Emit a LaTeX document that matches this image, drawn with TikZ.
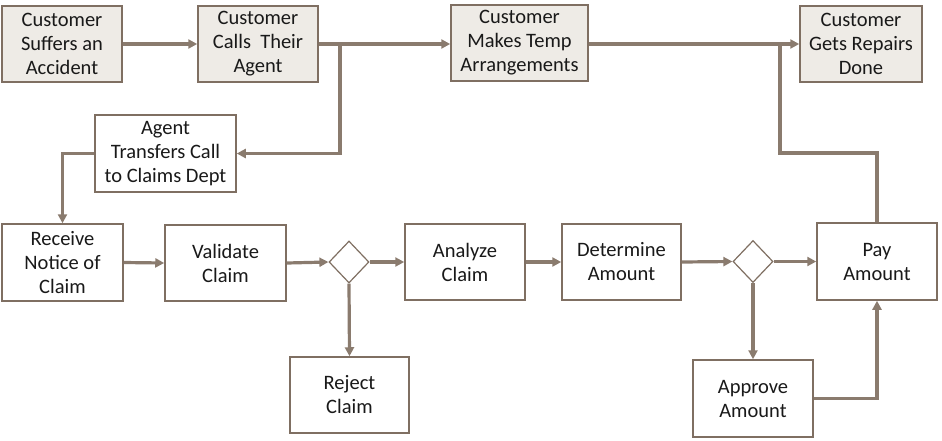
\documentclass[tikz,border=0pt]{standalone}
\usepackage{fontspec}
\setmainfont{Carlito}
\usetikzlibrary{arrows.meta,shapes.geometric}
\definecolor{edge}{HTML}{7F6F62}
\definecolor{line}{HTML}{8A7B6E}
\definecolor{topfill}{HTML}{EEEBE6}
\tikzset{
  box/.style={draw=edge,line width=1.5pt,fill=white,align=center,inner sep=2pt,
    font=\fontsize{20.5}{24}\selectfont,text=black!90},
  topbox/.style={box,fill=topfill},
  dia/.style={draw=edge,line width=1.2pt,fill=white,diamond,minimum width=40pt,minimum height=42pt,inner sep=0pt},
  conn/.style={draw=line,line width=3.2pt},
  arr/.style={conn,-{Triangle[length=9pt,width=9pt]}},
}
\begin{document}
\begin{tikzpicture}[x=1pt,y=-1pt]
\useasboundingbox (0,0) rectangle (942,440);
\node[topbox,minimum width=120pt,minimum height=76pt] (b1) at (62,44) {Customer\\Suffers an\\Accident};
\node[topbox,minimum width=120pt,minimum height=76pt] (b2) at (258,44) {Customer\\Calls\ \ Their\\Agent};
\node[topbox,minimum width=137pt,minimum height=76pt] (b3) at (519.5,43) {Customer\\Makes Temp\\Arrangements};
\node[topbox,minimum width=122pt,minimum height=76pt] (b4) at (861,44) {Customer\\Gets Repairs\\Done};
\node[box,minimum width=141pt,minimum height=77pt] (agent) at (165.5,153.5) {Agent\\Transfers Call\\to Claims Dept};
\node[box,minimum width=121pt,minimum height=77pt] (recv) at (62.5,262.5) {Receive\\Notice of\\Claim};
\node[box,minimum width=121pt,minimum height=76pt] (valid) at (225.5,263) {Validate\\Claim};
\node[dia] (d1) at (349,262) {};
\node[box,minimum width=120pt,minimum height=76pt] (analyze) at (465,262) {Analyze\\Claim};
\node[box,minimum width=119pt,minimum height=76pt] (determine) at (621.5,262) {Determine\\Amount};
\node[dia] (d2) at (753,261.5) {};
\node[box,minimum width=120pt,minimum height=77pt] (pay) at (877,261.5) {Pay\\Amount};
\node[box,minimum width=120pt,minimum height=77pt] (approve) at (753,398.5) {Approve\\Amount};
\node[box,minimum width=119pt,minimum height=76pt] (reject) at (349.5,395) {Reject\\Claim};
\coordinate (j1) at (340,44);
\coordinate (j2) at (780,44);
\coordinate (k2) at (780,153);
\draw[arr] (b1.east) -- (b2.west);
\draw[conn] (b2.east) -- (j1);
\draw[arr] (j1) -- (b3.west |- j1);
\draw[arr] (j1) |- (agent.east);
\draw[arr] (agent.west) -| (recv.north);
\draw[arr] (b3.east |- j2) -- (b4.west |- j2);
\draw[conn] (pay.north) |- (k2) -- (j2);
\draw[arr] (recv.east) -- (valid.west);
\draw[arr] (valid.east) -- (d1.west);
\draw[arr] (d1.east) -- (analyze.west);
\draw[arr] (d1.south) -- (reject.north);
\draw[arr] (analyze.east) -- (determine.west);
\draw[arr] (determine.east) -- (d2.west);
\draw[arr] (d2.east) -- (pay.west);
\draw[arr] (d2.south) -- (approve.north);
\draw[arr] (approve.east) -| (pay.south);
\end{tikzpicture}
\end{document}
